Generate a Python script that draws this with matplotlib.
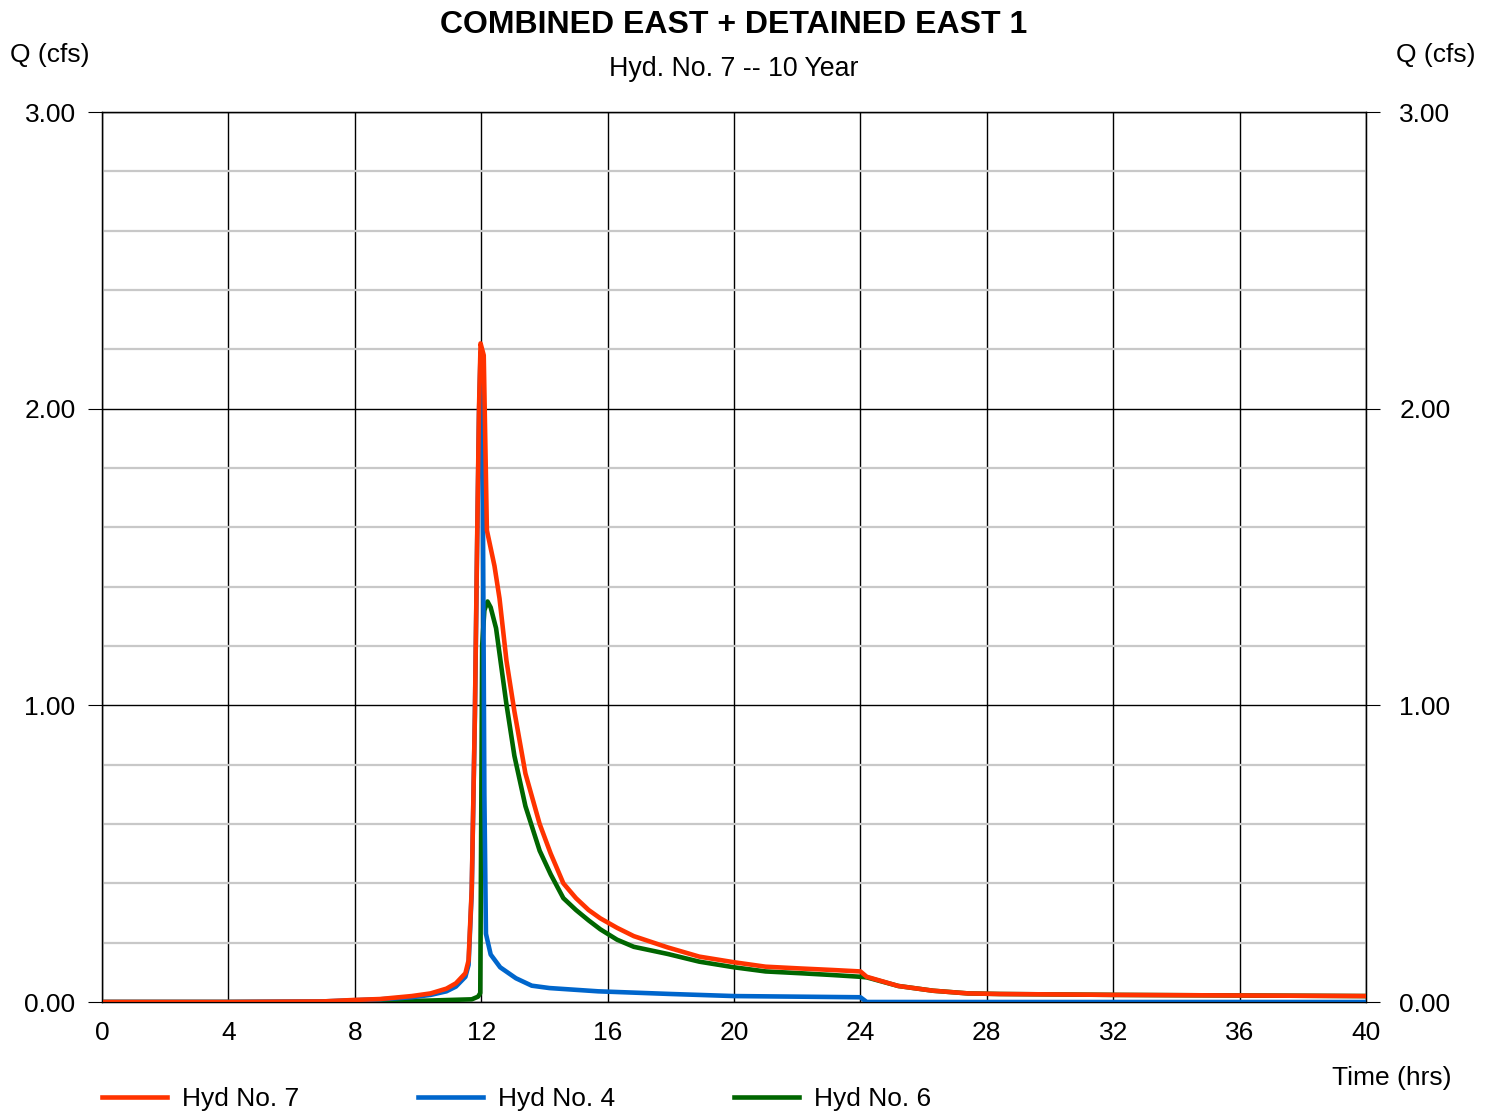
import matplotlib
matplotlib.use("Agg")
import matplotlib.pyplot as plt
from matplotlib.ticker import MultipleLocator

plt.rcParams['font.family'] = ['Liberation Sans', 'DejaVu Sans']

# ---------------- hydrograph data (time in hrs, Q in cfs) ----------------
hyd7_t = [0, 4, 7, 8, 8.8, 9.8, 10.4, 10.9, 11.2, 11.5, 11.6, 11.7, 11.8, 11.87, 11.93, 11.98,
          12.08, 12.18, 12.42, 12.58, 12.8, 13.05, 13.4, 13.85, 14.2, 14.6, 15.0, 15.4, 15.77, 16.3,
          16.83, 17.9, 18.9, 20.0, 21.0, 22.1, 23.1, 24.0, 24.2, 25.2, 26.3, 27.4, 28.4, 32, 36, 40]
hyd7_q = [0, 0, 0.002, 0.007, 0.010, 0.020, 0.029, 0.045, 0.063, 0.097, 0.14, 0.38, 0.97, 1.55, 2.0, 2.22,
          2.18, 1.59, 1.47, 1.36, 1.15, 0.98, 0.77, 0.60, 0.50, 0.40, 0.35, 0.31, 0.282, 0.25,
          0.222, 0.184, 0.153, 0.134, 0.119, 0.113, 0.108, 0.103, 0.085, 0.054, 0.038, 0.029, 0.027,
          0.024, 0.022, 0.020]

hyd4_t = [0, 4, 7, 8, 8.8, 9.8, 10.4, 10.9, 11.2, 11.5, 11.6, 11.7, 11.8, 11.87, 11.93, 11.98,
          12.05, 12.1, 12.15, 12.3, 12.6, 13.1, 13.6, 14.16, 15.7, 18.0, 20.0, 22.0, 24.0, 24.2, 30, 40]
hyd4_q = [0, 0, 0.002, 0.006, 0.009, 0.016, 0.024, 0.036, 0.052, 0.085, 0.125, 0.37, 0.96, 1.53, 1.98, 2.19,
          1.75, 0.7, 0.23, 0.16, 0.117, 0.08, 0.055, 0.047, 0.036, 0.027, 0.020, 0.018, 0.016, 0.0, 0.0, 0.0]

hyd6_t = [0, 7, 8.8, 10.4, 11.7, 11.9, 11.97, 12.0, 12.03, 12.1, 12.2, 12.3, 12.47, 12.79, 13.05,
          13.4, 13.85, 14.2, 14.6, 15.0, 15.4, 15.77, 16.3, 16.83, 17.9, 18.9, 20.0, 21.0, 22.1, 23.1,
          24.0, 24.2, 25.2, 26.3, 27.4, 28.4, 32, 36, 40]
hyd6_q = [0, 0, 0.001, 0.005, 0.009, 0.018, 0.03, 0.6, 1.2, 1.32, 1.35, 1.33, 1.26, 1.01, 0.83,
          0.66, 0.51, 0.43, 0.35, 0.31, 0.275, 0.245, 0.21, 0.186, 0.162, 0.136, 0.117, 0.103, 0.097,
          0.091, 0.085, 0.083, 0.054, 0.038, 0.029, 0.027, 0.024, 0.022, 0.020]

x_ticks = list(range(0, 41, 4))
y_ticks = [0, 1, 2, 3]
y_tick_labels = ["0.00", "1.00", "2.00", "3.00"]

fig = plt.figure(figsize=(14.94, 11.14), dpi=100)
ax = fig.add_axes([102 / 1494, 1 - 1002 / 1114, (1366 - 102) / 1494, (1002 - 112) / 1114])

ax.plot(hyd6_t, hyd6_q, color='#006600', linewidth=3.3, label='Hyd No. 6', zorder=3)
ax.plot(hyd4_t, hyd4_q, color='#0066CC', linewidth=3.3, label='Hyd No. 4', zorder=4)
ax.plot(hyd7_t, hyd7_q, color='#FF3300', linewidth=3.3, label='Hyd No. 7', zorder=5)

ax.set_xlim(0, 40)
ax.set_ylim(0, 3)
ax.set_xticks(x_ticks)
ax.set_yticks(y_ticks)
ax.set_yticklabels(y_tick_labels)
ax.yaxis.set_minor_locator(MultipleLocator(0.2))
ax.grid(which='major', color='black', linewidth=1.0)
ax.grid(which='minor', axis='y', color='#c8c8c8', linewidth=1.6)
ax.set_axisbelow(True)
for s in ax.spines.values():
    s.set_color('black')
    s.set_linewidth(1.0)

ax.tick_params(axis='x', length=0, pad=14, labelsize=19)
ax.tick_params(axis='y', which='major', length=10, pad=9, labelsize=19, direction='out')
ax.tick_params(axis='y', which='minor', length=0)

# right-hand copy of the Q axis
ax2 = ax.twinx()
ax2.set_ylim(0, 3)
ax2.set_yticks(y_ticks)
ax2.set_yticklabels(y_tick_labels)
ax2.tick_params(axis='y', length=10, pad=14, labelsize=19)

fig.text(0.491, 0.978, "COMBINED EAST + DETAINED EAST 1", ha='center', va='center',
         fontsize=23, fontweight='bold')
fig.text(0.491, 0.938, "Hyd. No. 7 -- 10 Year", ha='center', va='center', fontsize=19.3)
fig.text(10 / 1494, 0.951, "Q (cfs)", ha='left', va='center', fontsize=19)
fig.text(1476 / 1494, 0.951, "Q (cfs)", ha='right', va='center', fontsize=19)
fig.text(1451 / 1494, 1 - 1078 / 1114, "Time (hrs)", ha='right', va='center', fontsize=19)

handles, labels = ax.get_legend_handles_labels()
order = [2, 1, 0]
fig.legend([handles[i] for i in order], [labels[i] for i in order],
           loc='center left', bbox_to_anchor=(102 / 1494, 1 - 1099 / 1114),
           ncol=3, frameon=False, fontsize=19, borderpad=0, borderaxespad=0,
           handlelength=2.46, handletextpad=0.57, columnspacing=4.5)

fig.savefig("out.png", dpi=100)
